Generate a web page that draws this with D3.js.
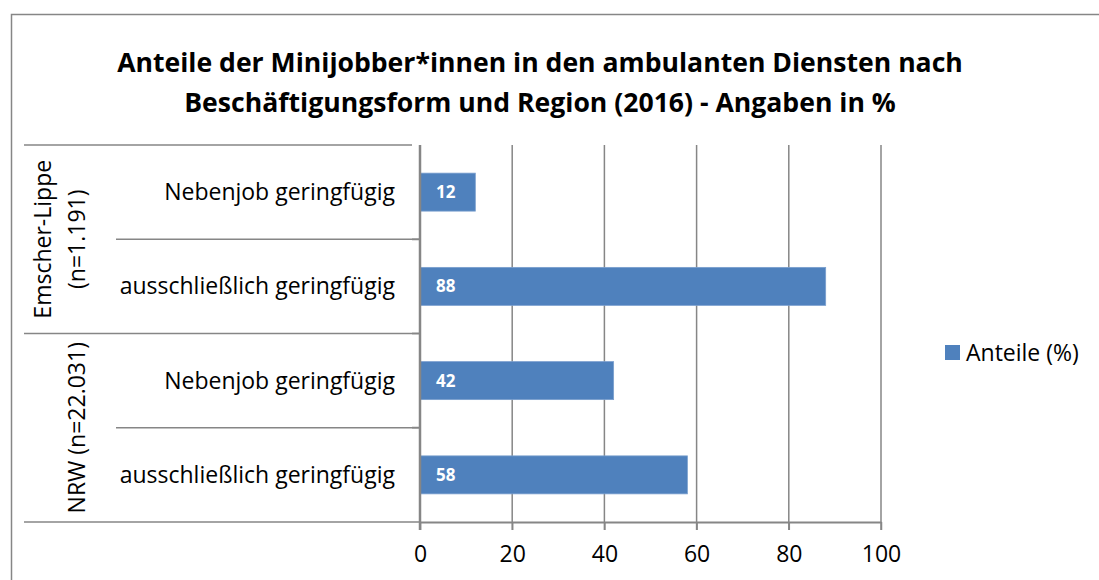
<!DOCTYPE html>
<html>
<head>
<meta charset="utf-8">
<script src="https://cdn.jsdelivr.net/npm/d3@7"></script>
<style>
  body { margin: 0; background: #fff; }
  svg { display: block; font-family: "Open Sans", "Noto Sans", sans-serif; }
</style>
</head>
<body>
<svg id="chart" width="1099" height="580"></svg>
<script>
// Chart data
const titleLines = [
  "Anteile der Minijobber*innen in den ambulanten Diensten nach",
  "Beschäftigungsform und Region (2016) - Angaben in %"
];
const groups = [
  { lines: ["Emscher-Lippe", "(n=1.191)"], size: 2 },
  { lines: ["NRW (n=22.031)"], size: 2 }
];
const categories = ["Nebenjob geringfügig", "ausschließlich geringfügig", "Nebenjob geringfügig", "ausschließlich geringfügig"];
const values = [12, 88, 42, 58];
const xTicks = [0, 20, 40, 60, 80, 100];
const seriesName = "Anteile (%)";

const BAR = "#4f81bd";
const GRID = "#868686";
const FS = 23; // body text size

const svg = d3.select("#chart");

// Outer chart frame
svg.append("rect")
  .attr("x", 11.5).attr("y", 14.5)
  .attr("width", 1100).attr("height", 600)
  .attr("fill", "none").attr("stroke", GRID).attr("stroke-width", 1.5);

// Title
svg.append("g").selectAll("text")
  .data(titleLines)
  .join("text")
  .attr("x", 540)
  .attr("y", (d, i) => 72 + i * 40)
  .attr("text-anchor", "middle")
  .attr("font-weight", "bold")
  .attr("font-size", 26.6)
  .attr("fill", "#000")
  .text(d => d);

// Scales
const plot = { left: 420, right: 881, top: 145, bottom: 522 };
const keys = categories.map((c, i) => i);
const x = d3.scaleLinear().domain([0, 100]).range([plot.left, plot.right]);
const y = d3.scaleBand().domain(keys).range([plot.top, plot.bottom])
  .paddingInner(0.597).paddingOuter(0.2985);
const step = y.step();

// Vertical gridlines
svg.append("g").selectAll("line")
  .data(xTicks.slice(1))
  .join("line")
  .attr("x1", d => x(d)).attr("x2", d => x(d))
  .attr("y1", plot.top).attr("y2", plot.bottom + 8)
  .attr("stroke", GRID).attr("stroke-width", 1.5);

// Bars
svg.append("g").selectAll("rect")
  .data(values)
  .join("rect")
  .attr("x", x(0))
  .attr("y", (d, i) => y(i))
  .attr("width", d => x(d) - x(0))
  .attr("height", y.bandwidth())
  .attr("fill", BAR)
  .attr("stroke", "#7a9fce").attr("stroke-width", 0.8);

// Data labels
svg.append("g").selectAll("text")
  .data(values)
  .join("text")
  .attr("x", x(0) + 16)
  .attr("y", (d, i) => y(i) + y.bandwidth() / 2)
  .attr("dy", "0.36em")
  .attr("font-weight", "bold")
  .attr("font-size", 17)
  .attr("fill", "#fff")
  .text(d => d);

// x axis
const xAxis = d3.axisBottom(x).tickValues(xTicks).tickSize(8).tickSizeOuter(0).tickPadding(16);
const gx = svg.append("g")
  .attr("transform", `translate(0,${plot.bottom})`)
  .call(xAxis);
gx.select(".domain").attr("stroke", GRID).attr("stroke-width", 2);
gx.selectAll(".tick line").attr("stroke", GRID).attr("stroke-width", 1.5);
gx.selectAll(".tick text").attr("font-size", FS).attr("fill", "#000")
  .attr("font-family", "'Open Sans', sans-serif");

// Left category table
const tableLeft = 24, subLeft = 116;
// row boundaries
const bounds = d3.range(categories.length + 1).map(i => plot.top + i * step);
let row = 0;
const groupStarts = new Set([0]);
groups.forEach(g => { row += g.size; groupStarts.add(row); });

svg.append("g").selectAll("line")
  .data(bounds)
  .join("line")
  .attr("x1", (d, i) => groupStarts.has(i) ? tableLeft : subLeft)
  .attr("x2", (d, i) => i === bounds.length - 1 ? plot.left : plot.left - 8)
  .attr("y1", d => d).attr("y2", d => d)
  .attr("stroke", GRID).attr("stroke-width", 1.5);
svg.append("g").selectAll("line")
  .data(bounds.slice(1, -1))
  .join("line")
  .attr("x1", plot.left - 8).attr("x2", plot.left)
  .attr("y1", d => d).attr("y2", d => d)
  .attr("stroke", GRID).attr("stroke-width", 2);

// category axis line
svg.append("line")
  .attr("x1", plot.left).attr("x2", plot.left)
  .attr("y1", plot.top).attr("y2", plot.bottom + 8)
  .attr("stroke", GRID).attr("stroke-width", 2.5);

// Sub-category labels
svg.append("g").selectAll("text")
  .data(categories)
  .join("text")
  .attr("x", 395)
  .attr("y", (d, i) => plot.top + (i + 0.5) * step)
  .attr("dy", "0.35em")
  .attr("text-anchor", "end")
  .attr("font-size", FS)
  .attr("fill", "#000")
  .text(d => d);

// Group labels (rotated)
let start = 0;
groups.forEach(g => {
  const cy = plot.top + (start + g.size / 2) * step;
  const xs = g.lines.length === 2 ? [43, 77] : [77];
  g.lines.forEach((t, j) => {
    svg.append("text")
      .attr("transform", `translate(${xs[j]},${cy}) rotate(-90)`)
      .attr("dy", "0.35em")
      .attr("text-anchor", "middle")
      .attr("font-size", FS)
      .attr("fill", "#000")
      .text(t);
  });
  start += g.size;
});

// Legend
const legend = svg.append("g").attr("transform", "translate(945,345)");
legend.append("rect").attr("width", 15).attr("height", 15).attr("fill", BAR);
legend.append("text")
  .attr("x", 21).attr("y", 7.5).attr("dy", "0.35em")
  .attr("font-size", FS).attr("fill", "#000")
  .text(seriesName);
</script>
</body>
</html>
